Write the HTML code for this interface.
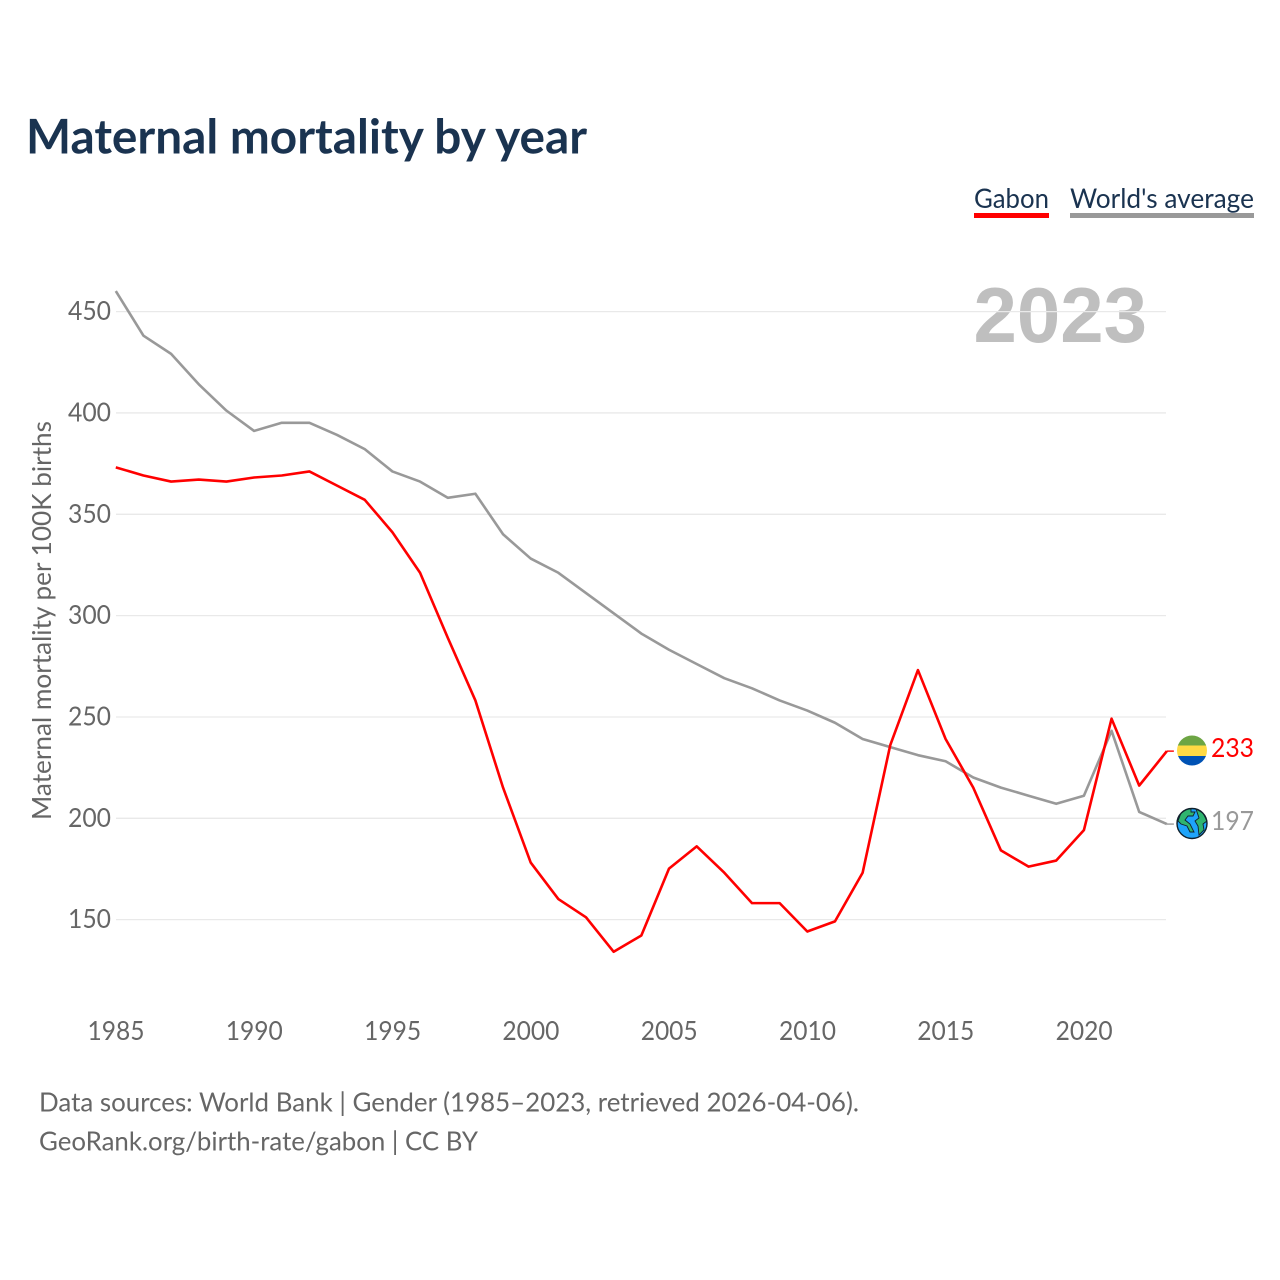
<!DOCTYPE html>
<html lang="en">
<head>
<meta charset="utf-8">
<title>Maternal mortality by year</title>
<style>
html,body{margin:0;padding:0;background:#fff;width:1280px;height:1280px;overflow:hidden}
svg{display:block}
text{font-family:"Lato","Carlito","Liberation Sans",sans-serif}
</style>
</head>
<body>
<svg id="chart" xmlns="http://www.w3.org/2000/svg" width="1280" height="1280" viewBox="0 0 1280 1280">
  <rect width="1280" height="1280" fill="#fff"/>
  <text x="26" y="153.5" font-size="47.5" font-weight="700" fill="#1a3350" textLength="561" lengthAdjust="spacingAndGlyphs">Maternal mortality by year</text>

  <g>
    <text x="974" y="208" font-size="27" fill="#1a3350" textLength="75" lengthAdjust="spacingAndGlyphs">Gabon</text>
    <rect x="974" y="213" width="75" height="5" fill="#ff0000"/>
  </g>
  <g>
    <text x="1070" y="208" font-size="27" fill="#1a3350" textLength="184" lengthAdjust="spacingAndGlyphs">World's average</text>
    <rect x="1070" y="213" width="184" height="5" fill="#999999"/>
  </g>

  <text x="973.5" y="342" style="font-family:'Liberation Sans',sans-serif" font-size="78" font-weight="700" fill="#bfbfbf">2023</text>

  <g id="grid"></g>
  <g id="yticks"></g>
  <g id="xticks"></g>
  <text transform="translate(51,620.5) rotate(-90)" text-anchor="middle" font-size="26" fill="#666666" textLength="399" lengthAdjust="spacingAndGlyphs">Maternal mortality per 100K births</text>
  <g id="series"></g>

  <defs>
    <clipPath id="flag-clip"><circle cx="1192" cy="750.5" r="15"/></clipPath>
    <clipPath id="globe-clip"><circle cx="1192" cy="823.5" r="15"/></clipPath>
  </defs>
  <g clip-path="url(#flag-clip)">
    <rect x="1177" y="735" width="30" height="10.5" fill="#6da544"/>
    <rect x="1177" y="745.5" width="30" height="10.5" fill="#ffda44"/>
    <rect x="1177" y="756" width="30" height="11" fill="#0052b4"/>
  </g>
  <g>
    <circle cx="1192" cy="823.5" r="15" fill="#1ea4fa"/>
    <g clip-path="url(#globe-clip)" fill="#2fb56f" stroke="#10202c" stroke-width="0.9">
      <path d="M1178 821 L1181 813 L1187 809 L1191 809 L1191 812 L1195 812 L1193 816 L1188 816 L1185 820 L1190 824 L1194 832 L1190 832 L1187 826 L1181 824 Z"/>
      <path d="M1196 809 L1203 813 L1207 821 L1203 824 L1204 830 L1199 835 L1198 826 L1195 821 L1199 818 Z"/>
    </g>
    <circle cx="1192" cy="823.5" r="15" fill="none" stroke="#10202c" stroke-width="1.4"/>
  </g>
  <text x="1211" y="757" font-size="26.5" fill="#ff0000" textLength="43" lengthAdjust="spacingAndGlyphs">233</text>
  <text x="1211" y="830" font-size="26.5" fill="#999999" textLength="43" lengthAdjust="spacingAndGlyphs">197</text>

  <text x="39" y="1111.5" font-size="26.5" fill="#666666" textLength="820" lengthAdjust="spacingAndGlyphs">Data sources: World Bank | Gender (1985–2023, retrieved 2026-04-06).</text>
  <text x="39" y="1150.5" font-size="26.5" fill="#666666" textLength="439" lengthAdjust="spacingAndGlyphs">GeoRank.org/birth-rate/gabon | CC BY</text>
</svg>
<script>
var firstYear = 1985;
var gabonValues = [373,369,366,367,366,368,369,371,364,357,341,321,289,258,215,178,160,151,134,142,175,186,173,158,158,144,149,173,236,273,239,215,184,176,179,194,249,216,233];
var worldValues = [460,438,429,414,401,391,395,395,389,382,371,366,358,360,340,328,321,311,301,291,283,276,269,264,258,253,247,239,235,231,228,220,215,211,207,211,243,203,197];
var yTickLabels = [150,200,250,300,350,400,450];
var xTickLabels = [1985,1990,1995,2000,2005,2010,2015,2020];

var NS = 'http://www.w3.org/2000/svg';
function xScale(year){ return 115.8 + (year - 1985) * 27.66; }
function yScale(v){ return 818 - (v - 200) * 2.0267; }
function make(tag, attrs, parent){
  var el = document.createElementNS(NS, tag);
  for (var k in attrs) el.setAttribute(k, attrs[k]);
  parent.appendChild(el);
  return el;
}

var grid = document.getElementById('grid');
var yticks = document.getElementById('yticks');
yTickLabels.forEach(function(v){
  var line = make('line', {x1:116, x2:1166, y1:yScale(v)+0.3, y2:yScale(v)+0.3, stroke:'#e9e9e9', 'stroke-width':1.3}, grid);
  
  
  var t = make('text', {x:111, y:yScale(v)+8.8, 'text-anchor':'end', 'font-size':26.5, fill:'#666666', textLength:43, lengthAdjust:'spacingAndGlyphs'}, yticks);
  
  
  t.textContent = v;
});

var xticks = document.getElementById('xticks');
xTickLabels.forEach(function(y){
  var t = make('text', {x:xScale(y)+0.2, y:1040, 'text-anchor':'middle', 'font-size':26.5, fill:'#666666', textLength:57, lengthAdjust:'spacingAndGlyphs'}, xticks);
  
  
  t.textContent = y;
});

var series = document.getElementById('series');
function drawSeries(values, color, name){
  var pts = values.map(function(v, i){ return xScale(firstYear + i).toFixed(2) + ',' + yScale(v).toFixed(2); });
  var lastY = yScale(values[values.length - 1]);
  var lastX = xScale(firstYear + values.length - 1);
  var line = make('polyline', {points:pts.join(' '), fill:'none', stroke:color, 'stroke-width':2.6, 'stroke-linejoin':'round'}, series);
  
  
  var tail = make('line', {x1:lastX, x2:lastX + 7, y1:lastY, y2:lastY, stroke:color, 'stroke-width':1.4}, series);
  
  
}
drawSeries(worldValues, '#999999', 'world-average-line');
drawSeries(gabonValues, '#ff0000', 'gabon-line');
</script>
</body>
</html>
